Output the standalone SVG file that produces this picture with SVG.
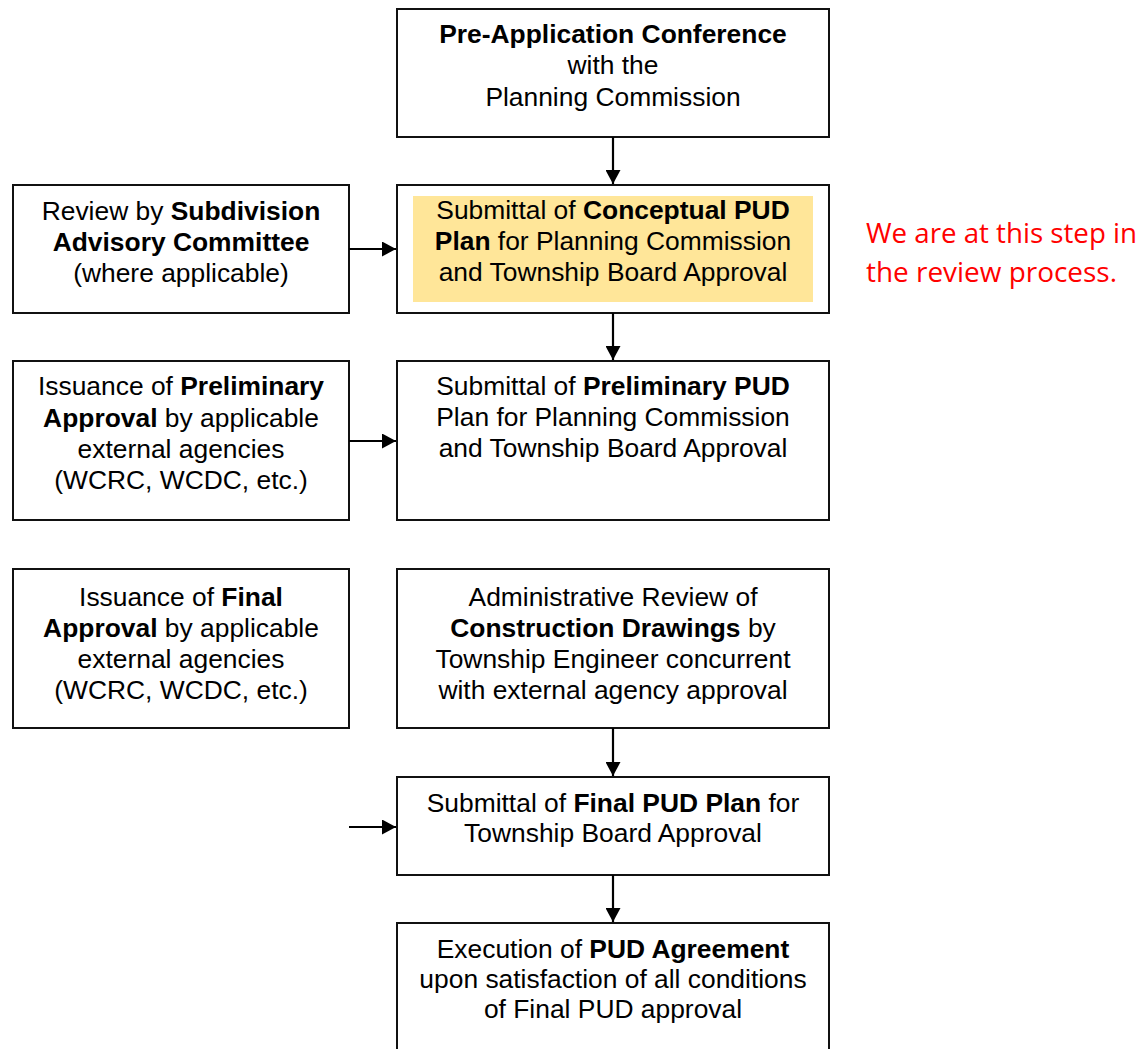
<svg xmlns="http://www.w3.org/2000/svg" width="1144" height="1049" viewBox="0 0 1144 1049">
<defs>
<marker id="ah" viewBox="0 0 14 15" refX="14" refY="7.5" markerWidth="14" markerHeight="15" markerUnits="userSpaceOnUse" orient="auto">
<path d="M0,0 L14,7.5 L0,15 Z" fill="#000"/>
</marker>
<style>
.box{fill:#fff;stroke:#111;stroke-width:2}
.t{font-family:"Liberation Sans",Arial,sans-serif;font-size:26.4px;fill:#000;text-anchor:middle}
.b{font-weight:bold}
.c{stroke:#000;stroke-width:2.2;fill:none;marker-end:url(#ah)}
.red{font-family:"Open Sans","Noto Sans",sans-serif;font-size:27px;fill:#ff0000}
</style>
</defs>
<rect width="1144" height="1049" fill="#fff"/>
<g id="n1">
<rect class="box" x="397" y="9" width="432" height="128"/>
<text class="t" x="613" y="43"><tspan class="b">Pre-Application Conference</tspan></text>
<text class="t" x="613" y="74">with the</text>
<text class="t" x="613" y="106">Planning Commission</text>
</g>
<g id="n2">
<rect class="box" x="397" y="185" width="432" height="128"/>
<rect x="413" y="196" width="400" height="106" fill="#ffe699"/>
<text class="t" x="613" y="219">Submittal of <tspan class="b">Conceptual PUD</tspan></text>
<text class="t" x="613" y="250"><tspan class="b">Plan</tspan> for Planning Commission</text>
<text class="t" x="613" y="281">and Township Board Approval</text>
</g>
<g id="s1">
<rect class="box" x="13" y="185" width="336" height="128"/>
<text class="t" x="181" y="220">Review by <tspan class="b">Subdivision</tspan></text>
<text class="t" x="181" y="251"><tspan class="b">Advisory Committee</tspan></text>
<text class="t" x="181" y="282">(where applicable)</text>
</g>
<g id="n3">
<rect class="box" x="397" y="361" width="432" height="159"/>
<text class="t" x="613" y="395">Submittal of <tspan class="b">Preliminary PUD</tspan></text>
<text class="t" x="613" y="426">Plan for Planning Commission</text>
<text class="t" x="613" y="457">and Township Board Approval</text>
</g>
<g id="s2">
<rect class="box" x="13" y="361" width="336" height="159"/>
<text class="t" x="181" y="395">Issuance of <tspan class="b">Preliminary</tspan></text>
<text class="t" x="181" y="427"><tspan class="b">Approval</tspan> by applicable</text>
<text class="t" x="181" y="458">external agencies</text>
<text class="t" x="181" y="489">(WCRC, WCDC, etc.)</text>
</g>
<g id="s3">
<rect class="box" x="13" y="569" width="336" height="159"/>
<text class="t" x="181" y="606">Issuance of <tspan class="b">Final</tspan></text>
<text class="t" x="181" y="637"><tspan class="b">Approval</tspan> by applicable</text>
<text class="t" x="181" y="668">external agencies</text>
<text class="t" x="181" y="699">(WCRC, WCDC, etc.)</text>
</g>
<g id="n4">
<rect class="box" x="397" y="569" width="432" height="159"/>
<text class="t" x="613" y="606">Administrative Review of</text>
<text class="t" x="613" y="637"><tspan class="b">Construction Drawings</tspan> by</text>
<text class="t" x="613" y="668">Township Engineer concurrent</text>
<text class="t" x="613" y="699">with external agency approval</text>
</g>
<g id="n5">
<rect class="box" x="397" y="777" width="432" height="98"/>
<text class="t" x="613" y="812">Submittal of <tspan class="b">Final PUD Plan</tspan> for</text>
<text class="t" x="613" y="842">Township Board Approval</text>
</g>
<g id="n6">
<rect class="box" x="397" y="923" width="432" height="140"/>
<text class="t" x="613" y="958">Execution of <tspan class="b">PUD Agreement</tspan></text>
<text class="t" x="613" y="988">upon satisfaction of all conditions</text>
<text class="t" x="613" y="1018">of Final PUD approval</text>
</g>
<g id="note">
<text class="red" x="866" y="243" textLength="271" lengthAdjust="spacingAndGlyphs">We are at this step in</text>
<text class="red" x="866" y="282" textLength="251" lengthAdjust="spacingAndGlyphs">the review process.</text>
</g>
<g id="connectors">
<line class="c" x1="613" y1="137" x2="613" y2="184"/>
<line class="c" x1="613" y1="313" x2="613" y2="360"/>
<line class="c" x1="613" y1="728" x2="613" y2="776"/>
<line class="c" x1="613" y1="875" x2="613" y2="922"/>
<line class="c" x1="349" y1="249" x2="396" y2="249"/>
<line class="c" x1="349" y1="441" x2="396" y2="441"/>
<line class="c" x1="349" y1="827" x2="396" y2="827"/>
</g>
</svg>
